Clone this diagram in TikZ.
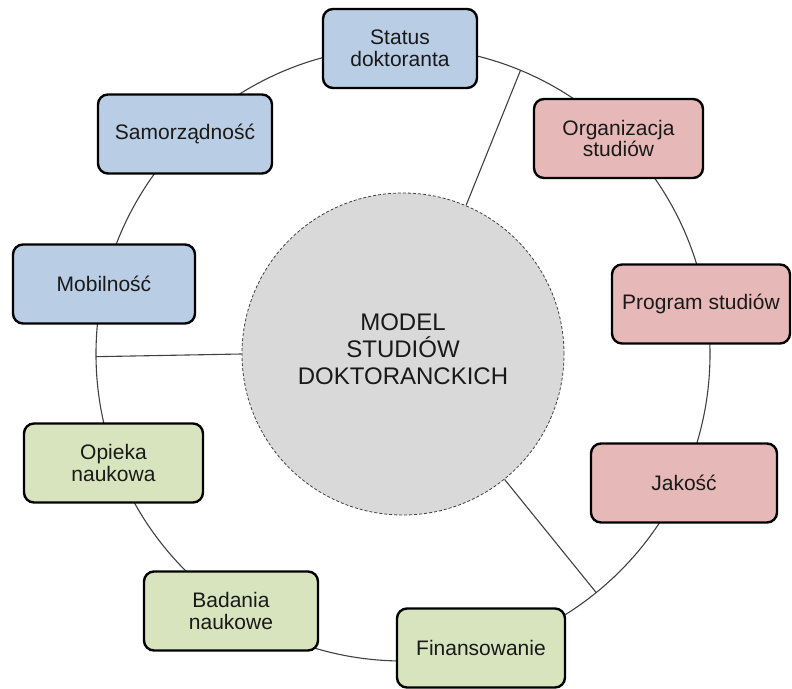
\documentclass[tikz,border=0pt]{standalone}
\usepackage{fontspec}
\setmainfont{Liberation Sans}
\usepackage{tikz}

\definecolor{boxblue}{HTML}{B9CDE5}
\definecolor{boxred}{HTML}{E6B9B8}
\definecolor{boxgreen}{HTML}{D7E4BD}
\definecolor{modelgray}{HTML}{D9D9D9}

\begin{document}
\begin{tikzpicture}[x=1pt, y=1pt]
    \tikzstyle{topic box}=[
        draw = black,
        line width = 2.4pt,
        rounded corners = 10pt,
        minimum height = 79pt,
        align = center,
        text = black!90,
        font = \fontsize{21}{21.5}\selectfont
    ]
    \tikzstyle{blue box}=[topic box, fill = boxblue]
    \tikzstyle{red box}=[topic box, fill = boxred]
    \tikzstyle{green box}=[topic box, fill = boxgreen]
    \tikzstyle{model state}=[
        circle,
        draw = black!75,
        line width = 0.8pt,
        dash pattern = on 3pt off 2pt,
        fill = modelgray,
        minimum size = 322pt,
        align = center,
        text depth = 10pt,
        text = black!90,
        font = \fontsize{24}{27}\selectfont
    ]
    \tikzstyle{ring}=[draw = black!75, line width = 1.1pt]

    \useasboundingbox (-403, -334) rectangle (389, 354);

    % outer ring behind the boxes
    \draw[ring] (0, 0) circle (307);

    \node[model state] (model) at (0, 0) {MODEL\\STUDIÓW\\DOKTORANCKICH};

    \node[blue box, minimum width = 154pt]  (status) at (-3, 305.5)     {Status\\doktoranta};
    \node[blue box, minimum width = 174pt]  (samo)   at (-218, 220)     {Samorządność};
    \node[blue box, minimum width = 182pt]  (mobil)  at (-299, 70)      {Mobilność};
    \node[green box, minimum width = 179pt] (opieka) at (-289.5, -109)  {Opieka\\naukowa};
    \node[green box, minimum width = 174pt] (badan)  at (-172, -257)    {Badania\\naukowe};
    \node[green box, minimum width = 168pt] (finans) at (78, -294)      {Finansowanie};
    \node[red box, minimum width = 186pt]   (jakosc) at (281, -129)     {Jakość};
    \node[red box, minimum width = 178pt]   (progr)  at (298, 50)       {Program studiów};
    \node[red box, minimum width = 169pt]   (organ)  at (215.5, 215.5)  {Organizacja\\studiów};

    % spokes between the groups
    \coordinate (rim a) at (67.5:307);
    \coordinate (rim b) at (180.5:307);
    \coordinate (rim c) at (-51:307);

    \draw[ring] (model.67.5) -- (rim a);
    \draw[ring] (model.180.5) -- (rim b);
    \draw[ring] (model.-51) -- (rim c);

\end{tikzpicture}
\end{document}
